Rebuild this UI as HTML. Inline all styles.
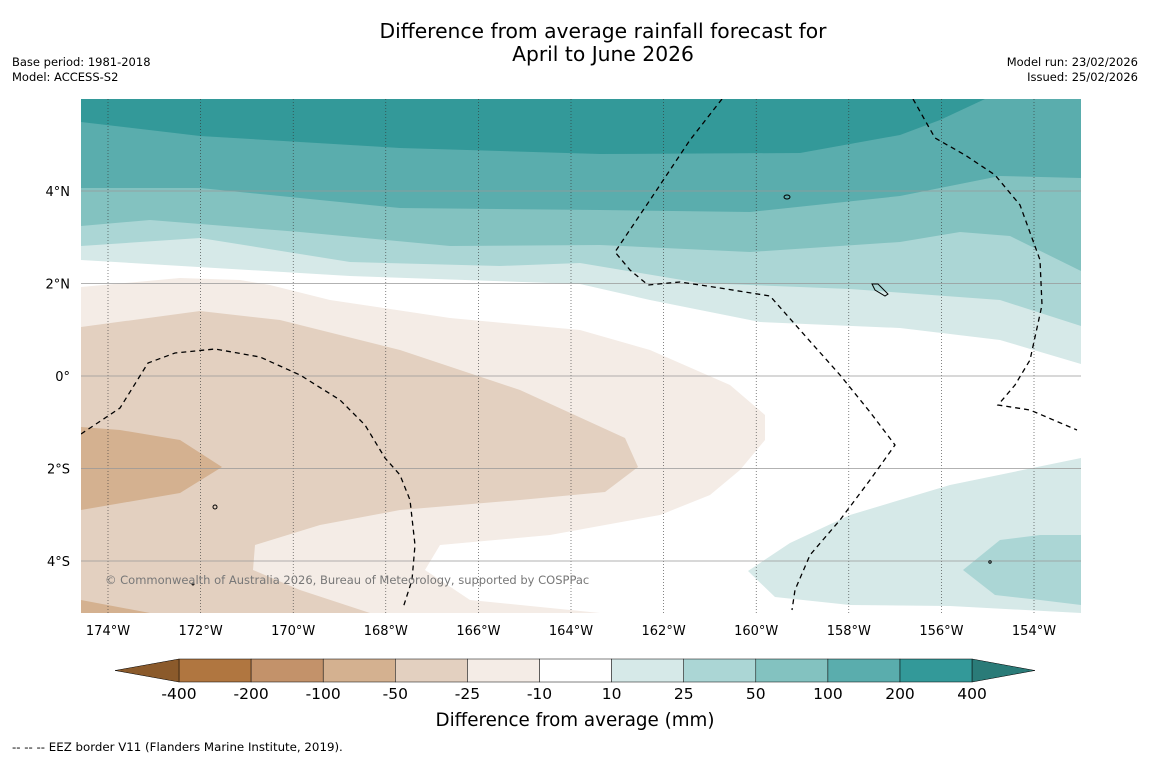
<!DOCTYPE html>
<html><head><meta charset="utf-8"><style>
html,body{margin:0;padding:0;background:#fff;width:1150px;height:758px;overflow:hidden;font-family:"DejaVu Sans","Liberation Sans",sans-serif}
svg text{font-family:"DejaVu Sans","Liberation Sans",sans-serif}
</style></head><body>
<svg id="chart" width="1150" height="758" xmlns="http://www.w3.org/2000/svg">
<text x="603" y="38" text-anchor="middle" font-size="20.3">Difference from average rainfall forecast for</text>
<text x="603" y="61" text-anchor="middle" font-size="20.3">April to June 2026</text>
<text x="12" y="66" font-size="11.5">Base period: 1981-2018</text>
<text x="12" y="81" font-size="11.5">Model: ACCESS-S2</text>
<text x="1138" y="66" font-size="11.5" text-anchor="end">Model run: 23/02/2026</text>
<text x="1138" y="81" font-size="11.5" text-anchor="end">Issued: 25/02/2026</text>
<defs><clipPath id="clip"><rect x="81" y="99" width="1000" height="514"/></clipPath></defs>
<g clip-path="url(#clip)">
<rect x="81" y="99" width="1000" height="514" fill="#fff"/>
<polygon fill="#d6e9e8" points="81,99 1081,99 1081,364 1000,340 900,328 760,322 650,300 580,284 350,276 81,260"/>
<polygon fill="#abd6d5" points="81,99 1081,99 1081,326 1000,300 850,289 700,283 580,263 500,266 350,262 200,238 81,246"/>
<polygon fill="#83c2c0" points="81,99 1081,99 1081,271 1010,236 960,232 900,242 750,252 600,245 450,246 300,232 150,220 81,226"/>
<polygon fill="#5aadad" points="81,99 1081,99 1081,178 1000,176 900,196 750,212 600,210 400,208 200,188 81,188"/>
<polygon fill="#339999" points="81,99 985,99 940,120 900,135 800,153 600,154 400,148 200,136 81,122"/>
<polygon fill="#f4ece6" points="81,287 180,278 240,280 270,285 330,300 450,318 580,330 650,350 730,385 765,415 765,440 740,470 710,495 660,515 550,535 440,545 425,570 470,600 600,613 81,613"/>
<polygon fill="#e3d0c0" points="81,327 200,311 280,320 400,350 520,390 625,438 638,467 605,492 520,500 400,510 320,525 255,545 253,570 300,590 370,613 81,613"/>
<polygon fill="#d4b190" points="81,427 120,430 180,440 222,467 180,493 81,510"/>
<polygon fill="#d4b190" points="81,600 150,613 81,613"/>
<polygon fill="#d6e9e8" points="1081,458 950,485 850,515 790,543 748,571 775,597 850,605 950,606 1081,613"/>
<polygon fill="#abd6d5" points="963,570 1000,540 1040,535 1081,535 1081,605 1040,600 995,595"/>
<g id="grid"></g>
<g fill="none" stroke="#000" stroke-width="1.3" stroke-dasharray="5,4">
<polyline points="81,434 120,408 148,363 175,353 215,349 260,357 300,375 340,400 365,425 385,458 400,475 410,500 415,545 412,580 403,608"/>
<polyline points="722,99 690,140 650,200 615,252 630,270 648,285 680,282 720,288 770,296 800,330 840,375 870,412 895,445 870,480 840,520 810,555 795,590 792,610"/>
<polyline points="913,99 935,138 965,155 995,175 1020,205 1040,260 1042,305 1030,360 1015,385 998,405 1030,410 1077,430"/>
</g>
<g fill="none" stroke="#000" stroke-width="1">
<ellipse cx="787" cy="197" rx="3" ry="2"/><path d="M872,284 l6,0 l10,10 l-3,2 l-10,-6 z"/>
<ellipse cx="215" cy="507" rx="2" ry="2"/><circle cx="193" cy="584" r="1"/><circle cx="990" cy="562" r="1.2"/>
</g>
<text x="105" y="584" font-size="11.5" fill="#777">© Commonwealth of Australia 2026, Bureau of Meteorology, supported by COSPPac</text>
</g>
<g id="axes" font-size="13"></g>
<g id="cbar"></g>
<text x="575" y="726" text-anchor="middle" font-size="18.3">Difference from average (mm)</text>
<text x="12" y="751" font-size="11.8">--  --  -- EEZ border V11 (Flanders Marine Institute, 2019).</text>
</svg>
<script>
const lonTicks=[174,172,170,168,166,164,162,160,158,156,154];
const latTicks=[4,2,0,-2,-4];
const levelLabels=["-400","-200","-100","-50","-25","-10","10","25","50","100","200","400"];
const levelColors=["#b07640","#c3926a","#d4b190","#e3d0c0","#f4ece6","#ffffff","#d6e9e8","#abd6d5","#83c2c0","#5aadad","#339999"];
const extColors=["#8b5a2b","#2a7b78"];
const NS="http://www.w3.org/2000/svg";
const x=lon=>108+(174-lon)*46.3;
const y=lat=>376-lat*46.25;
function mk(tag,attrs,parent,txt){const e=document.createElementNS(NS,tag);for(const k in attrs)e.setAttribute(k,attrs[k]);if(txt!==undefined)e.textContent=txt;parent.appendChild(e);return e;}
const grid=document.getElementById('grid'),axes=document.getElementById('axes'),cbar=document.getElementById('cbar');
lonTicks.forEach(l=>{
 const g=mk('line',{x1:x(l),x2:x(l),y1:99,y2:613,stroke:'#333','stroke-width':0.6,'stroke-dasharray':'1,2'},grid);
 
 
 const t=mk('text',{x:x(l),y:635,'text-anchor':'middle'},axes,l+'°W');
 
 
});
latTicks.forEach(l=>{
 const g=mk('line',{x1:81,x2:1081,y1:y(l),y2:y(l),stroke:'#999','stroke-width':0.7},grid);
 
 
 const lab=l>0?l+'°N':l<0?(-l)+'°S':'0°';
 const t=mk('text',{x:70,y:y(l)+5,'text-anchor':'end'},axes,lab);
 
 
});
const cx0=179,cw=72.1,cy=659,ch=23,n=levelColors.length;
levelColors.forEach((c,i)=>{
 const r=mk('rect',{x:cx0+i*cw,y:cy,width:cw,height:ch,fill:c,stroke:'#000','stroke-width':0.5},cbar);
 
 
});
const xe=cx0+n*cw;
const l1=mk('polygon',{points:`${cx0},${cy} 115,${cy+ch/2} ${cx0},${cy+ch}`,fill:extColors[0],stroke:'#000','stroke-width':0.5},cbar);


const l2=mk('polygon',{points:`${xe},${cy} 1035,${cy+ch/2} ${xe},${cy+ch}`,fill:extColors[1],stroke:'#000','stroke-width':0.5},cbar);


levelLabels.forEach((s,i)=>{
 const t=mk('text',{x:cx0+i*cw,y:699,'text-anchor':'middle','font-size':15.5},cbar,s);
 
 
});
</script>
</body></html>
